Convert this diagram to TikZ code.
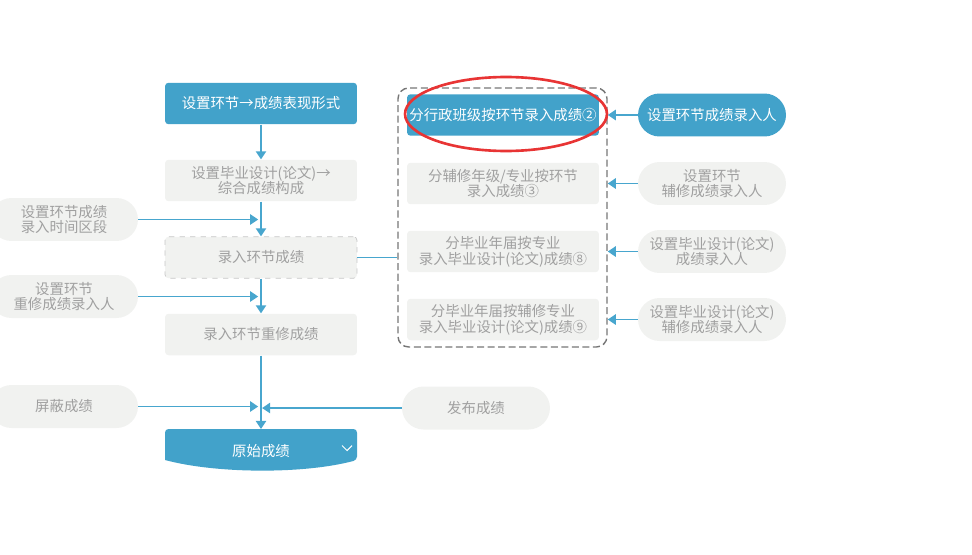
\documentclass[tikz,border=0pt]{standalone}
\usepackage{fontspec}
\setmainfont{Noto Sans CJK SC}
\usetikzlibrary{arrows.meta}
\definecolor{stepblue}{RGB}{66,162,202}
\definecolor{linkblue}{RGB}{72,166,206}
\definecolor{boxgrey}{RGB}{241,242,240}
\definecolor{textgrey}{RGB}{160,160,160}
\definecolor{framegrey}{RGB}{118,118,118}
\definecolor{ringred}{RGB}{232,52,52}
\def\boxfont{\fontsize{8.2}{9}\selectfont}
\tikzset{
	box/.style={rectangle, rounded corners=2pt, minimum width=3.84cm, minimum height=0.83cm, align=center, inner sep=0pt, font=\boxfont},
	bluebox/.style={box, fill=stepblue, text=white},
	greybox/.style={box, fill=boxgrey, text=textgrey},
	pill/.style={rectangle, rounded corners=0.43cm, minimum width=2.96cm, minimum height=0.86cm, align=center, inner sep=0pt, font=\boxfont},
	bluepill/.style={pill, fill=stepblue, text=white},
	greypill/.style={pill, fill=boxgrey, text=textgrey},
	link/.style={draw=linkblue, line width=1.05pt, -{Triangle[length=4.6pt,width=5.8pt]}},
}

\begin{document}
\begin{tikzpicture}[x=0.02cm, y=-0.02cm]
			%%%%% START %%%%%
			\useasboundingbox (0, 0) rectangle (972, 554);
			
			\node[bluebox] (set) at (261, 103.5) {设置环节→成绩表现形式};
			\node[greybox] (make) at (261, 180.5) {设置毕业设计(论文)→\\综合成绩构成};
			\node[greybox, draw=textgrey!60, dashed] (enter) at (261, 257.5) {录入环节成绩};
			\node[greybox] (redo) at (261, 334.5) {录入环节重修成绩};
			
			\fill[stepblue, rounded corners=2pt] (165, 460) -- (165, 429) -- (357, 429) -- (357, 460) [sharp corners] .. controls (305, 474) and (217, 474) .. (165, 460) -- cycle;
			\coordinate (rawtop) at (261, 429);
			\node[text=white, font=\boxfont] (raw) at (261, 451) {原始成绩};
			\draw[white, line width=0.6pt] (342, 445.5) -- (347, 450.5) -- (352, 445.5);
			
			\node[greypill] (span) at (64, 219.5) {设置环节成绩\\录入时间区段};
			\node[greypill] (redoer) at (64, 296.5) {设置环节\\重修成绩录入人};
			\node[greypill] (hide) at (64, 406.5) {屏蔽成绩};
			\node[greypill] (pub) at (476, 408) {发布成绩};
			
			\node[draw=framegrey, dashed, dash pattern=on 4pt off 2pt, line width=0.8pt, rounded corners=6pt, minimum width=4.18cm, minimum height=5.18cm] (grp) at (502.5, 217.5) {};
			\node[bluebox] (byclass) at (503, 115) {分行政班级按环节录入成绩②};
			\node[greybox] (byminor) at (503, 183.5) {分辅修年级/专业按环节\\录入成绩③};
			\node[greybox] (bythesis) at (503, 251.5) {分毕业年届按专业\\录入毕业设计(论文)成绩⑧};
			\node[greybox] (byminorthesis) at (503, 319.5) {分毕业年届按辅修专业\\录入毕业设计(论文)成绩⑨};
			
			\node[bluepill] (who) at (712, 115) {设置环节成绩录入人};
			\node[greypill] (whominor) at (712, 183.5) {设置环节\\辅修成绩录入人};
			\node[greypill] (whothesis) at (712, 251.5) {设置毕业设计(论文)\\成绩录入人};
			\node[greypill] (whominorthesis) at (712, 319.5) {设置毕业设计(论文)\\辅修成绩录入人};
			
			\draw[ringred, line width=1.5pt] (506, 114) ellipse [x radius=2.02cm, y radius=0.74cm];
			
			\draw[link] (set) -- (make);
			\draw[link] (make) -- (enter);
			\draw[link] (enter) -- (redo);
			\draw[link] (redo) -- (rawtop);
			
			\draw[link, shorten >=1.6pt] (span.east) -- (span.east -| enter.north);
			\draw[link, shorten >=1.6pt] (redoer.east) -- (redoer.east -| redo.north);
			\draw[link, shorten >=1.6pt] (hide.east) -- (hide.east -| rawtop);
			\draw[link, shorten >=0.6pt] (pub.west) -- (pub.west -| rawtop);
			
			\draw[linkblue, line width=1.05pt] (enter.east) -- (enter.east -| grp.west);
			\draw[link] (who.west) -- (who.west -| grp.east);
			\draw[link] (whominor.west) -- (whominor.west -| grp.east);
			\draw[link] (whothesis.west) -- (whothesis.west -| grp.east);
			\draw[link] (whominorthesis.west) -- (whominorthesis.west -| grp.east);
			
			%%%%% END %%%%%
		\end{tikzpicture}
\end{document}
